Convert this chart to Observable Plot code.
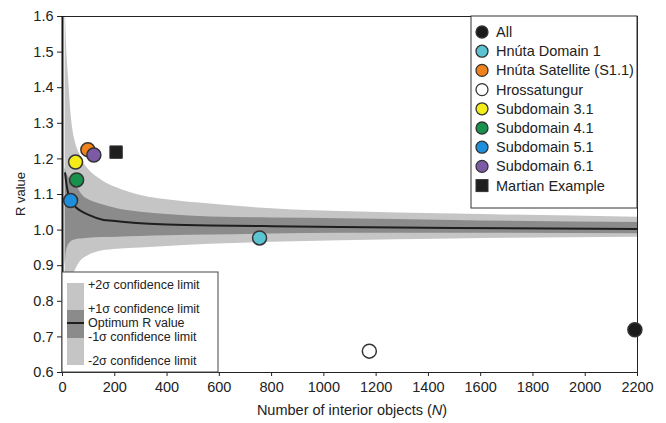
<!DOCTYPE html>
<html><head><meta charset="utf-8">
<script src="https://cdn.jsdelivr.net/npm/d3@7"></script>
<script src="https://cdn.jsdelivr.net/npm/@observablehq/plot@0.6"></script>
<style>body{margin:0;background:#fff;font-family:"Liberation Sans",Arial,sans-serif}</style>
</head><body><div id="chart"></div>
<script>
// Observed points
const seriesNames = ["All","Hnúta Domain 1","Hnúta Satellite (S1.1)","Hrossatungur","Subdomain 3.1","Subdomain 4.1","Subdomain 5.1","Subdomain 6.1","Martian Example"];
const seriesN = [2190, 754, 97, 1174, 50, 54, 31, 120, 205];
const seriesR = [0.72, 0.978, 1.226, 0.66, 1.191, 1.141, 1.083, 1.211, 1.219];
const seriesColors = ["#1b1b1b","#5cc3d3","#f0821c","#ffffff","#f4ec1a","#17924c","#1e8fdc","#7c5aa6","#1f1f1f"];

// Confidence envelope
const bandN   = [10, 15, 23, 30, 38, 50, 65, 80, 100, 150, 210, 300, 400, 566, 800, 1063, 1500, 2200];
const upper2  = [1.66, 1.53, 1.43, 1.35, 1.29, 1.245, 1.215, 1.19, 1.17, 1.14, 1.118, 1.097, 1.085, 1.073, 1.06, 1.052, 1.045, 1.036];
const upper1  = [1.175, 1.16, 1.15, 1.14, 1.135, 1.13, 1.11, 1.095, 1.085, 1.072, 1.06, 1.05, 1.044, 1.037, 1.034, 1.032, 1.027, 1.021];
const optimum = [1.16, 1.13, 1.10, 1.085, 1.075, 1.065, 1.056, 1.05, 1.043, 1.03, 1.025, 1.019, 1.016, 1.013, 1.011, 1.009, 1.006, 1.003];
const lower1  = [0.90, 0.94, 0.958, 0.965, 0.97, 0.973, 0.975, 0.976, 0.977, 0.979, 0.98, 0.982, 0.984, 0.986, 0.989, 0.991, 0.991, 0.99];
const lower2  = [0.70, 0.76, 0.81, 0.84, 0.865, 0.888, 0.908, 0.92, 0.929, 0.941, 0.946, 0.95, 0.954, 0.96, 0.966, 0.97, 0.975, 0.98];

const xTicks = [0,200,400,600,800,1000,1200,1400,1600,1800,2000,2200];
const yTicks = [0.6,0.7,0.8,0.9,1.0,1.1,1.2,1.3,1.4,1.5,1.6];
const bandLabels = ["+2σ confidence limit","+1σ confidence limit","Optimum R value","-1σ confidence limit","-2σ confidence limit"];

const band = bandN.map((n,i)=>({n, u2:upper2[i], u1:upper1[i], o:optimum[i], l1:lower1[i], l2:lower2[i]}));
const pts = seriesNames.map((name,i)=>({name, n:seriesN[i], r:seriesR[i]}));
const circles = pts.filter(d=>d.name!=="Martian Example");
const squares = pts.filter(d=>d.name==="Martian Example");

const LIGHT = "#c5c5c5", DARK = "#8b8b8b";

const plot = Plot.plot({
  width: 666, height: 423,
  marginLeft: 62, marginRight: 29, marginTop: 16, marginBottom: 51,
  style: {fontFamily: "'Liberation Sans', Arial, sans-serif", fontSize: "14.5px", color: "#222", background: "#fff"},
  x: {domain: [0,2200], ticks: xTicks, tickSize: 4, tickFormat: d3.format("d"), label: null},
  y: {domain: [0.6,1.6], ticks: yTicks, tickSize: 5, tickFormat: d3.format(".1f"), label: null},
  color: {domain: seriesNames, range: seriesColors},
  marks: [
    Plot.areaY(band, {x:"n", y1:"l2", y2:"u2", fill:LIGHT, curve:"monotone-x", clip:true}),
    Plot.areaY(band, {x:"n", y1:"l1", y2:"u1", fill:DARK, curve:"monotone-x", clip:true}),
    Plot.line(band, {x:"n", y:"o", stroke:"#1e1e1e", strokeWidth:2, curve:"monotone-x", clip:true}),
    Plot.frame({stroke:"#222"}),
    Plot.ruleX([0], {stroke:"#111", strokeWidth:2}),
    Plot.dot(circles, {x:"n", y:"r", r:7, fill:"name", stroke:"#333", strokeWidth:1.5}),
    Plot.dot(squares, {x:"n", y:"r", r:7, symbol:"square", fill:"name", stroke:"#333", strokeWidth:1})
  ]
});

const svg = d3.select(plot);
const ff = "'Liberation Sans', Arial, sans-serif";

// Axis titles
svg.append("text").attr("transform","translate(20,194) rotate(-90)")
  .attr("text-anchor","middle").attr("dy","0.35em").attr("font-size",13).attr("font-family",ff).attr("fill","#222")
  .text("R value");
const xl = svg.append("text").attr("x",352).attr("y",410).attr("text-anchor","middle").attr("dy","0.35em")
  .attr("font-size",14.5).attr("font-family",ff).attr("fill","#222");
xl.append("tspan").text("Number of interior objects (");
xl.append("tspan").attr("font-style","italic").text("N");
xl.append("tspan").text(")");

// Series legend (top right)
const lg = svg.append("g").attr("font-family",ff).attr("font-size",14.5).attr("fill","#222").attr("text-anchor","start");
lg.append("rect").attr("x",471).attr("y",16).attr("width",166).attr("height",192).attr("fill","#fff").attr("stroke","#333");
seriesNames.forEach((name,i)=>{
  const y = 32 + i*19.2;
  if (name==="Martian Example") {
    lg.append("rect").attr("x",476).attr("y",y-6).attr("width",12).attr("height",12).attr("fill",seriesColors[i]).attr("stroke","#333");
  } else {
    lg.append("circle").attr("cx",482).attr("cy",y).attr("r",6).attr("fill",seriesColors[i]).attr("stroke","#333").attr("stroke-width",1.3);
  }
  lg.append("text").attr("x",496).attr("y",y).attr("dy","0.35em").attr("text-anchor","start").text(name);
});

// Envelope legend (bottom left)
const bl = svg.append("g").attr("font-family",ff).attr("font-size",12.5).attr("fill","#222").attr("text-anchor","start");
bl.append("rect").attr("x",62).attr("y",272).attr("width",156).attr("height",100).attr("fill","#fff").attr("stroke","#444");
bl.append("rect").attr("x",67).attr("y",283).attr("width",17).attr("height",27).attr("fill",LIGHT);
bl.append("rect").attr("x",67).attr("y",310).attr("width",17).attr("height",28).attr("fill",DARK);
bl.append("rect").attr("x",67).attr("y",338).attr("width",17).attr("height",27).attr("fill",LIGHT);
bl.append("line").attr("x1",67).attr("x2",84).attr("y1",323).attr("y2",323).attr("stroke","#1e1e1e").attr("stroke-width",2);
const bly = [285, 309, 323, 337, 361];
bandLabels.forEach((t,i)=>{
  bl.append("text").attr("x",88).attr("y",bly[i]).attr("dy","0.35em").attr("text-anchor","start").text(t);
});
plot.querySelectorAll("g[aria-label='frame']").forEach(g=>plot.insertBefore(g, lg.node()));
plot.querySelectorAll("g[aria-label='dot']").forEach(g=>plot.appendChild(g));

document.getElementById("chart").appendChild(plot);
</script></body></html>
